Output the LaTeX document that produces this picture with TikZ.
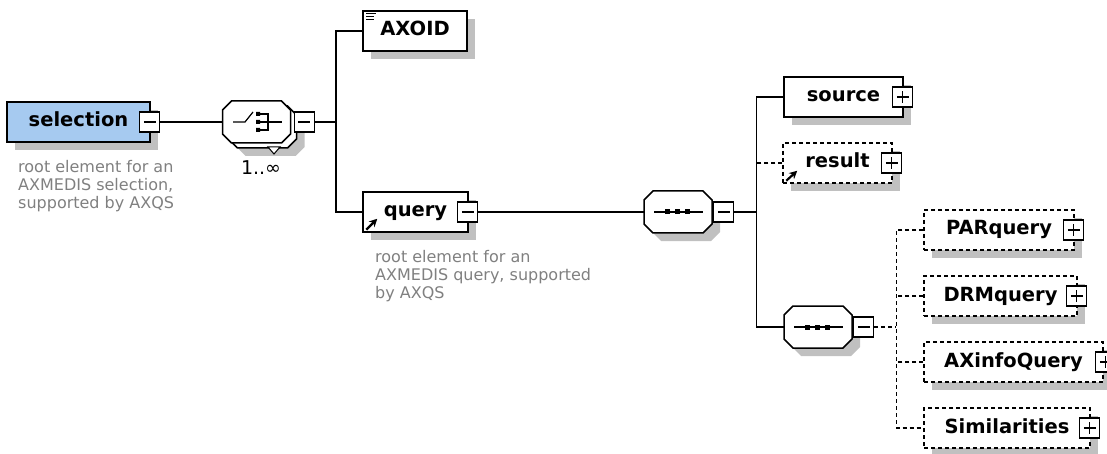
\documentclass[tikz,border=0pt]{standalone}
\usepackage{fontspec}
\setmainfont{DejaVu Sans}
\usetikzlibrary{positioning,shadows,arrows.meta}
\definecolor{selblue}{RGB}{166,202,240}
\definecolor{docgray}{RGB}{128,128,128}
\definecolor{shadowgray}{RGB}{192,192,192}
\tikzset{
  boxshadow/.style={drop shadow={shadow xshift=8pt, shadow yshift=-8pt, fill=shadowgray, opacity=1}},
  elem/.style={draw, fill=white, line width=1.5pt, minimum height=40pt, inner sep=0pt,
    text height=14pt, text depth=4pt, font=\bfseries\fontsize{19.5}{22}\selectfont, boxshadow},
  optline/.style={dash pattern=on 4pt off 3pt},
  optelem/.style={elem, optline},
  conn/.style={line width=1.5pt},
  refarrow/.style={-{Stealth[length=8pt,width=8pt]}, line width=2.2pt},
  minusbox/.style={draw, fill=white, line width=1.2pt, minimum size=20pt, inner sep=0pt,
    path picture={\draw[line width=1.2pt] ([xshift=-6pt]path picture bounding box.center) -- ([xshift=6pt]path picture bounding box.center);}},
  plusbox/.style={minusbox,
    path picture={\draw[line width=1.2pt] ([xshift=-6pt]path picture bounding box.center) -- ([xshift=6pt]path picture bounding box.center)
      ([yshift=-6pt]path picture bounding box.center) -- ([yshift=6pt]path picture bounding box.center);}},
  compbox/.style={minimum width=68pt, minimum height=42pt, inner sep=0pt},
  doc/.style={anchor=north west, inner sep=0pt, align=left, text=docgray, font=\fontsize{16}{18}\selectfont}
}
\begin{document}
\begin{tikzpicture}[x=1pt, y=-1pt]
\useasboundingbox (0,0) rectangle (1107,454);
\node[elem, fill=selblue, minimum width=143pt] (selection) at (78.5,122) {selection};
\node[minusbox] (selectionx) at ([xshift=-1pt]selection.east) {};
\node[doc] (selectiondoc) at (18,160) {root element for an\\AXMEDIS selection,\\supported by AXQS};
\node[compbox] (choiceback) at (262.5,127) {};
\node[compbox] (choice) at (256.5,122) {};
\node[compbox] (seq1) at (678,212) {};
\node[compbox] (seq2) at (818,327) {};
\foreach \s in {choiceback,seq1,seq2}
  \fill[shadowgray] ([shift={(8,8)}]\s.center) ++(-25,-21) -- ++(50,0) -- ++(9,9) -- ++(0,24) -- ++(-9,9) -- ++(-50,0) -- ++(-9,-9) -- ++(0,-24) -- cycle;
\foreach \s in {choiceback,choice,seq1,seq2}
  \draw[line width=1.5pt, fill=white] (\s.center) ++(-25,-21) -- ++(50,0) -- ++(9,9) -- ++(0,24) -- ++(-9,9) -- ++(-50,0) -- ++(-9,-9) -- ++(0,-24) -- cycle;
\draw[line width=1pt, fill=white] (268,147) -- (280,147) -- (274,154) -- cycle;
\begin{scope}[shift={(choice.center)}, line width=1.2pt]
\draw (-23.5,0) -- (-11.5,0) -- (-3.5,-10);
\fill (-0.5,-10) rectangle ++(4,4) (-0.5,-2) rectangle ++(4,4) (-0.5,6) rectangle ++(4,4);
\draw (3.5,-8) -- (11.5,-8) -- (11.5,8) -- (3.5,8) (3.5,0) -- (25.5,0);
\end{scope}
\foreach \s in {seq1,seq2}{
  \draw[line width=1.2pt] ([xshift=-24pt]\s.center) -- ([xshift=25pt]\s.center);
  \foreach \d in {-11,-1,9}
    \fill ([shift={(\d-2.5,-2.5)}]\s.center) rectangle ++(5,5);
}
\node[minusbox, right=3pt of choice] (choicex) {};
\node[minusbox, right=1pt of seq1] (seq1x) {};
\node[minusbox, right=1pt of seq2] (seq2x) {};
\node[font=\fontsize{19}{22}\selectfont, inner sep=0pt] (choiceocc) at (261,168) {1..∞};
\node[elem, minimum width=104pt] (axoid) at (415,31) {AXOID};
\draw[line width=1pt] ([shift={(4,3)}]axoid.north west) -- ++(10,0) ([shift={(4,6)}]axoid.north west) -- ++(8,0) ([shift={(4,9)}]axoid.north west) -- ++(8,0);
\node[elem, minimum width=105pt] (query) at (415.5,212) {query};
\node[minusbox] (queryx) at ([xshift=-1pt]query.east) {};
\draw[refarrow] ([shift={(4,-3)}]query.south west) -- ++(11,-11);
\node[doc] (querydoc) at (375,250) {root element for an\\AXMEDIS query, supported\\by AXQS};
\draw[conn] (selectionx.east) -- (choice.west);
\draw[conn] (choicex.east) -- ++(21,0) coordinate (rootbus);
\draw[conn] (axoid.west) -| (rootbus) |- (query.west);
\draw[conn] (queryx.east) -- (seq1.west);
\node[elem, minimum width=119pt] (source) at (843.5,97) {source};
\node[plusbox] (sourcex) at ([xshift=-1pt]source.east) {};
\node[optelem, minimum width=109pt] (result) at (837.5,163) {result};
\node[plusbox] (resultx) at ([xshift=-1pt]result.east) {};
\draw[refarrow] ([shift={(4,-3)}]result.south west) -- ++(11,-10);
\draw[conn] (seq1x.east) -- ++(22,0) coordinate (querybus);
\draw[conn] (source.west) -| (querybus) |- (seq2.west);
\draw[conn, optline] (result.west) -- (result.west -| querybus);
\node[optelem, minimum width=150pt] (parq) at (999,230) {PARquery};
\node[plusbox] (parqx) at ([xshift=-1pt]parq.east) {};
\node[optelem, minimum width=153pt] (drmq) at (1000.5,296) {DRMquery};
\node[plusbox] (drmqx) at ([xshift=-1pt]drmq.east) {};
\node[optelem, minimum width=179pt] (axinfo) at (1013.5,362) {AXinfoQuery};
\node[plusbox] (axinfox) at ([xshift=2pt]axinfo.east) {};
\node[optelem, minimum width=166pt] (simil) at (1007,428) {Similarities};
\node[plusbox] (similx) at ([xshift=-1pt]simil.east) {};
\draw[conn, optline] (seq2x.east) -- ++(22,0) coordinate (seqbus);
\draw[conn, optline] (parq.west) -| (seqbus) |- (simil.west);
\draw[conn, optline] (drmq.west) -- (drmq.west -| seqbus);
\draw[conn, optline] (axinfo.west) -- (axinfo.west -| seqbus);
\end{tikzpicture}
\end{document}
